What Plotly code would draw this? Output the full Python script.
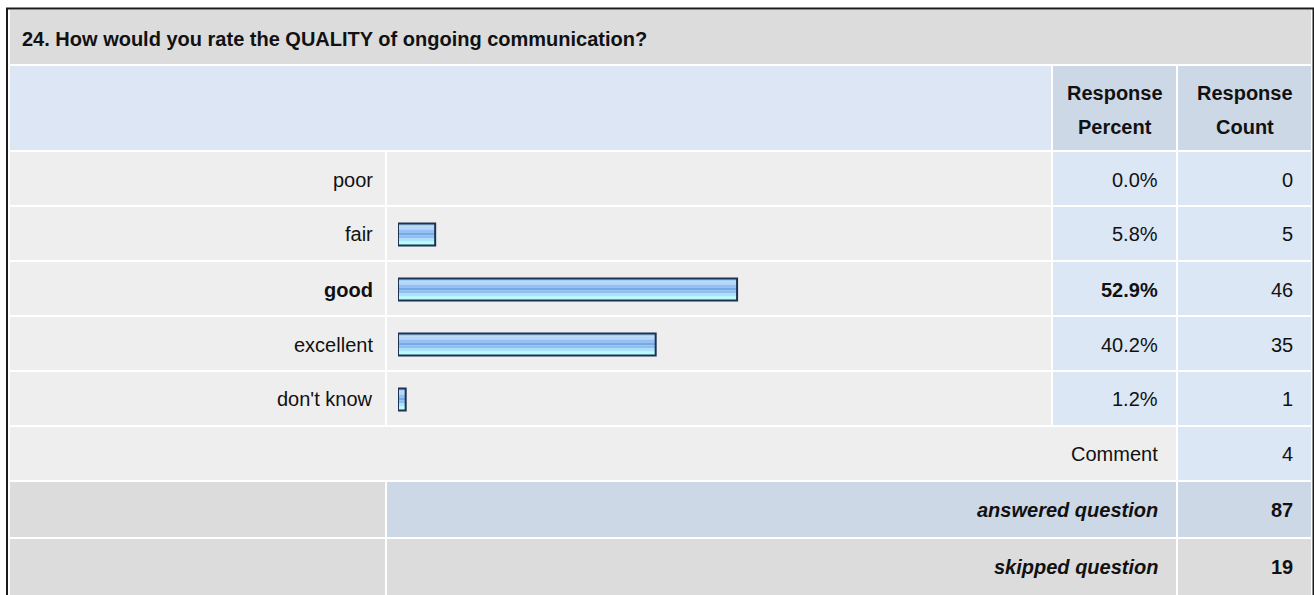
"""SurveyMonkey-style response table for question 24, drawn with Plotly."""
import plotly.graph_objects as go

question = "24. How would you rate the QUALITY of ongoing communication?"
answer_options = ["poor", "fair", "good", "excellent", "don't know"]
response_percent = [0.0, 5.8, 52.9, 40.2, 1.2]
response_count = [0, 5, 46, 35, 1]
comment_count = 4
answered_question = 87
skipped_question = 19

W, H = 1314, 595
FONT = "Liberation Sans, Arial, Helvetica, sans-serif"
FS = 20
INK = "#111111"

# layout grid in pixels (page coords)
X_LEFT, X_LABEL, X_PCT, X_CNT, X_RIGHT = 10, 387, 1053, 1178, 1311
ROW_TOP = 152
ROW_H = 55
BAR_X0, BAR_PX = 398, 641  # bar area: 0..100 % over 641 px

GREY = "#dcdcdc"
LIGHT = "#eeeeee"
BLUE = "#dce7f5"
BLUE_DARK = "#cdd8e6"


def px(x):
    return x / W


def py(y):
    return 1 - y / H


shapes = []


def cell(x0, y0, x1, y1, color):
    shapes.append(dict(
        type="rect", xref="paper", yref="paper",
        x0=px(x0), x1=px(x1), y0=py(y1), y1=py(y0),
        fillcolor=color, line=dict(width=0), layer="below",
    ))


annotations = []


def text(s, x, y, anchor="right", size=FS):
    annotations.append(dict(
        text=s, xref="paper", yref="paper", x=px(x), y=py(y),
        xanchor=anchor, yanchor="middle", showarrow=False,
        font=dict(family=FONT, size=size, color=INK),
    ))


# title row
cell(X_LEFT, 10, X_RIGHT, 64, GREY)
text(f"<b>{question}</b>", 20, 39, anchor="left")

# header row
cell(X_LEFT, 66, X_PCT - 2, 150, "#dce6f4")
cell(X_PCT, 66, X_CNT - 2, 150, BLUE_DARK)
cell(X_CNT, 66, X_RIGHT, 150, BLUE_DARK)
pct_mid = (X_PCT + X_CNT - 2) / 2
cnt_mid = (X_CNT + X_RIGHT) / 2
text("<b>Response</b>", pct_mid, 93, anchor="center")
text("<b>Percent</b>", pct_mid, 127, anchor="center")
text("<b>Response</b>", cnt_mid, 93, anchor="center")
text("<b>Count</b>", cnt_mid, 127, anchor="center")

top_pct = max(response_percent)
for i, (opt, pct, cnt) in enumerate(zip(answer_options, response_percent, response_count)):
    y0 = ROW_TOP + i * ROW_H
    y1 = y0 + ROW_H - 2
    cell(X_LEFT, y0, X_LABEL - 2, y1, LIGHT)
    cell(X_LABEL, y0, X_PCT - 2, y1, LIGHT)
    cell(X_PCT, y0, X_CNT - 2, y1, BLUE)
    cell(X_CNT, y0, X_RIGHT, y1, BLUE)
    yc = y0 + ROW_H / 2
    bold = pct == top_pct
    lab = f"<b>{opt}</b>" if bold else opt
    ptxt = f"<b>{pct:.1f}%</b>" if bold else f"{pct:.1f}%"
    text(lab, X_LABEL - 12, yc)
    text(ptxt, X_CNT - 18, yc)
    text(str(cnt), X_RIGHT - 16, yc)

# comment row
y0 = ROW_TOP + len(answer_options) * ROW_H
cell(X_LEFT, y0, X_CNT - 2, y0 + 53, LIGHT)
cell(X_CNT, y0, X_RIGHT, y0 + 53, BLUE)
text("Comment", X_CNT - 18, y0 + 27)
text(str(comment_count), X_RIGHT - 16, y0 + 27)

# answered / skipped
y0 = 482
cell(X_LEFT, y0, X_LABEL - 2, y0 + 55, GREY)
cell(X_LABEL, y0, X_CNT - 2, y0 + 55, BLUE_DARK)
cell(X_CNT, y0, X_RIGHT, y0 + 55, BLUE_DARK)
text("<b><i>answered question</i></b>", X_CNT - 18, y0 + 28)
text(f"<b>{answered_question}</b>", X_RIGHT - 16, y0 + 28)
y0 = 539
cell(X_LEFT, y0, X_LABEL - 2, H + 5, GREY)
cell(X_LABEL, y0, X_CNT - 2, H + 5, GREY)
cell(X_CNT, y0, X_RIGHT, H + 5, GREY)
text("<b><i>skipped question</i></b>", X_CNT - 18, y0 + 28)
text(f"<b>{skipped_question}</b>", X_RIGHT - 16, y0 + 28)

# outer border
shapes.append(dict(
    type="rect", xref="paper", yref="paper",
    x0=px(7), x1=px(1313.5), y0=py(H + 10), y1=py(8.5),
    line=dict(color="#1a1a1a", width=2), fillcolor="rgba(0,0,0,0)", layer="above",
))

# bars: stacked horizontal stripes fake the glossy gradient
bar_vals = [p if p > 0 else None for p in response_percent]
stripes = [  # (top px inside bar, height px, colour)
    (-11, 3, "#a4cdf8"),
    (-8, 3, "#b4d8fb"),
    (-5, 3, "#95c0f3"),
    (-2, 3, "#74aaea"),
    (1, 3, "#8ec0f3"),
    (4, 3, "#a8e4fc"),
    (7, 4, "#b8fcff"),
]
fig = go.Figure()
for top, h, col in stripes:
    fig.add_trace(go.Bar(
        y=answer_options, x=bar_vals, orientation="h",
        width=h / ROW_H, offset=top / ROW_H,
        marker=dict(color=col, line=dict(width=0)),
        hoverinfo="skip", showlegend=False,
    ))
fig.add_trace(go.Bar(
    y=answer_options, x=bar_vals, orientation="h",
    width=22 / ROW_H, offset=-11 / ROW_H,
    marker=dict(color="rgba(0,0,0,0)", line=dict(color="#1b3252", width=2)),
    hoverinfo="skip", showlegend=False,
))

fig.update_layout(
    width=W, height=H,
    margin=dict(l=0, r=0, t=0, b=0),
    paper_bgcolor="white", plot_bgcolor="rgba(0,0,0,0)",
    barmode="overlay",
    shapes=shapes, annotations=annotations,
    xaxis=dict(domain=[px(BAR_X0), px(BAR_X0 + BAR_PX)], range=[0, 100],
               visible=False, fixedrange=True),
    yaxis=dict(domain=[py(ROW_TOP + len(answer_options) * ROW_H), py(ROW_TOP)],
               type="category", categoryorder="array", categoryarray=answer_options,
               range=[len(answer_options) - 0.5, -0.5], visible=False, fixedrange=True),
    font=dict(family=FONT),
)

# page body has a default 8px margin; drop it so the figure sits at 0,0
fig.write_html("out.html", config=dict(displayModeBar=False),
               post_script="document.body.style.margin='0px';")
